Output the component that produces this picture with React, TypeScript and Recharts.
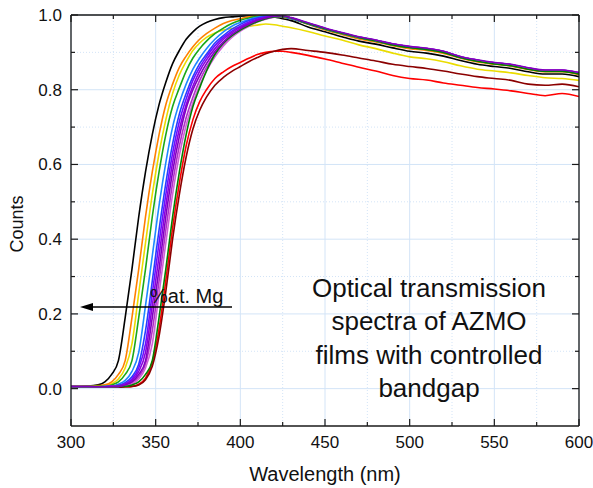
import React from 'react';
import { LineChart, Line, XAxis, YAxis, CartesianGrid } from 'recharts';

// wavelength grid (nm), finer across the absorption edge
const wavelengths = [
  300, 310, 316, 320, 324, 328, 332, 336, 340, 344, 348, 352, 356, 360, 364, 368, 372, 376, 380,
  385, 390, 395, 400, 405, 410, 415, 420, 425, 430,
  440, 450, 460, 470, 480, 490, 500, 510, 520, 530, 540, 550, 560, 570, 580, 590, 600,
];

// transmission, one array per film (left edge -> right edge)
const black = [.006, .007, .010, .018, .038, .075, .19, .32, .46, .58, .68, .76, .82, .87, .905, .935, .955, .97, .98, .988, .993, .995, .997, .998, .998, .997, .995, .99, .985, .968, .955, .942, .93, .922, .912, .903, .898, .89, .878, .868, .862, .857, .848, .842, .842, .835];
const orange = [.005, .006, .008, .010, .018, .038, .075, .19, .32, .46, .58, .68, .76, .815, .86, .89, .915, .935, .95, .965, .977, .985, .99, .995, .998, .999, .998, .994, .99, .975, .96, .948, .936, .928, .918, .91, .905, .897, .884, .874, .868, .863, .854, .848, .848, .84];
const gold = [.005, .006, .006, .008, .013, .026, .055, .12, .255, .39, .52, .63, .72, .79, .84, .875, .905, .925, .94, .952, .96, .964, .967, .97, .973, .976, .974, .97, .966, .956, .944, .933, .92, .91, .898, .888, .883, .875, .864, .855, .85, .845, .838, .832, .83, .825];
const green = [.005, .006, .006, .006, .010, .018, .038, .075, .19, .32, .46, .58, .68, .755, .805, .85, .885, .91, .93, .95, .965, .977, .986, .992, .996, .998, .998, .995, .99, .976, .962, .95, .939, .93, .92, .913, .908, .9, .886, .877, .87, .865, .856, .85, .85, .843];
const dodger = [.005, .005, .005, .006, .007, .012, .022, .046, .097, .222, .355, .49, .605, .70, .765, .815, .855, .885, .91, .935, .955, .97, .98, .988, .994, .997, .998, .996, .991, .977, .963, .951, .94, .931, .921, .914, .909, .901, .887, .878, .871, .866, .857, .851, .851, .844];
const blue = [.005, .005, .005, .005, .006, .009, .016, .032, .065, .155, .288, .425, .55, .655, .735, .79, .835, .87, .895, .925, .945, .962, .975, .985, .992, .996, .998, .996, .991, .977, .963, .952, .94, .932, .922, .914, .909, .902, .887, .878, .871, .866, .857, .851, .851, .844];
const blueViolet = [.005, .005, .005, .005, .006, .008, .013, .026, .055, .12, .255, .39, .52, .63, .715, .775, .825, .86, .888, .918, .94, .957, .97, .981, .989, .995, .998, .997, .992, .978, .964, .952, .941, .932, .922, .915, .91, .902, .888, .879, .872, .867, .858, .852, .852, .845];
const darkViolet = [.005, .005, .005, .005, .006, .007, .012, .022, .046, .097, .222, .355, .49, .605, .695, .76, .81, .85, .88, .91, .935, .953, .967, .978, .987, .993, .997, .997, .992, .978, .964, .952, .941, .932, .922, .915, .91, .902, .888, .879, .872, .867, .858, .852, .852, .845];
const purple = [.006, .006, .005, .005, .006, .006, .010, .018, .038, .075, .19, .32, .46, .58, .675, .75, .80, .838, .87, .902, .928, .948, .963, .975, .985, .992, .997, .998, .993, .979, .965, .953, .942, .933, .923, .916, .911, .903, .889, .88, .873, .868, .859, .853, .853, .846];
const magenta = [.005, .005, .005, .005, .006, .006, .009, .016, .032, .065, .155, .288, .425, .55, .65, .725, .78, .825, .86, .895, .922, .943, .96, .972, .983, .99, .995, .997, .992, .978, .964, .952, .941, .932, .922, .915, .91, .902, .888, .879, .872, .867, .858, .852, .852, .845];
const violet = [.005, .005, .005, .005, .005, .006, .008, .013, .026, .055, .12, .255, .39, .52, .625, .705, .765, .812, .85, .888, .917, .94, .957, .97, .981, .989, .994, .996, .992, .978, .964, .952, .941, .932, .922, .915, .91, .902, .888, .879, .872, .867, .858, .852, .852, .845];
const darkGreen = [.005, .005, .005, .005, .005, .006, .006, .010, .018, .038, .075, .19, .32, .46, .58, .68, .755, .805, .85, .895, .925, .945, .96, .972, .982, .99, .995, .996, .992, .977, .963, .951, .94, .931, .92, .913, .908, .9, .886, .876, .869, .864, .855, .849, .849, .842];
const red = [.004, .004, .004, .004, .004, .004, .005, .006, .012, .028, .07, .16, .29, .43, .55, .65, .72, .768, .80, .83, .848, .862, .873, .884, .894, .9, .903, .903, .9, .892, .882, .871, .86, .85, .838, .83, .826, .818, .812, .806, .802, .797, .79, .784, .79, .782];
const darkRed = [.004, .004, .004, .004, .004, .004, .005, .006, .01, .024, .06, .14, .26, .40, .52, .62, .695, .745, .78, .812, .833, .849, .862, .875, .886, .896, .903, .908, .91, .905, .9, .893, .885, .877, .868, .862, .857, .85, .842, .835, .83, .825, .815, .812, .815, .808];

// draw order: later ones sit on top
const series = [
  { key: 'black', color: '#000000', values: black },
  { key: 'red', color: '#ff0000', values: red },
  { key: 'darkRed', color: '#8b0000', values: darkRed },
  { key: 'gold', color: '#eadc00', values: gold },
  { key: 'orange', color: '#ff8000', values: orange },
  { key: 'green', color: '#1aa81a', values: green },
  { key: 'dodger', color: '#1e88ff', values: dodger },
  { key: 'blue', color: '#2a3cff', values: blue },
  { key: 'blueViolet', color: '#6a10ff', values: blueViolet },
  { key: 'darkViolet', color: '#8a00e0', values: darkViolet },
  { key: 'magenta', color: '#b030c8', values: magenta },
  { key: 'violet', color: '#d060d8', values: violet },
  { key: 'darkGreen', color: '#008000', values: darkGreen },
  { key: 'purple', color: '#8000c0', values: purple },
];

const data = wavelengths.map((w, i) => {
  const row: Record<string, number> = { w };
  series.forEach(s => {
    row[s.key] = s.values[i];
  });
  return row;
});

const xMajor = [300, 350, 400, 450, 500, 550, 600];
const xMinor = [325, 375, 425, 475, 525, 575];
const yMajor = [0, 0.2, 0.4, 0.6, 0.8, 1.0];
const yMinor = [0.1, 0.3, 0.5, 0.7, 0.9];
const xTicks = [...xMajor, ...xMinor].sort((a, b) => a - b);
const yTicks = [...yMajor, ...yMinor].sort((a, b) => a - b);
const X_DOMAIN = [300, 600];
const Y_DOMAIN = [-0.1, 1.0];

const W = 593;
const H = 488;
const MARGIN = { top: 15, right: 14, bottom: 32, left: 0 };
const Y_AXIS_W = 71;
const X_AXIS_H = 30;
// plot box, used only for the mirrored frame on top/right
const PLOT_L = MARGIN.left + Y_AXIS_W;
const PLOT_R = W - MARGIN.right;
const PLOT_T = MARGIN.top;
const PLOT_B = H - MARGIN.bottom - X_AXIS_H;
const px = (v: number) => PLOT_L + ((v - X_DOMAIN[0]) / (X_DOMAIN[1] - X_DOMAIN[0])) * (PLOT_R - PLOT_L);
const py = (v: number) => PLOT_T + ((Y_DOMAIN[1] - v) / (Y_DOMAIN[1] - Y_DOMAIN[0])) * (PLOT_B - PLOT_T);

const FONT = 'Arial, "Liberation Sans", sans-serif';
const X_GAP = 10;
const Y_GAP = 9;
const AXIS = '#1a1a1a';

const BottomTick = (props: any) => {
  const { x, y, payload } = props;
  const major = xMajor.includes(payload.value);
  const axisY = y - X_GAP;
  return (
    <g>
      <line x1={x} x2={x} y1={axisY} y2={axisY - (major ? 7 : 4)} stroke={AXIS} strokeWidth={1.2} />
      {major && (
        <text x={x} y={y} dy="0.71em" textAnchor="middle" fontSize={17} fontFamily={FONT} fill="#111">
          {payload.value}
        </text>
      )}
    </g>
  );
};

const LeftTick = (props: any) => {
  const { x, y, payload } = props;
  const major = yMajor.includes(payload.value);
  const axisX = x + Y_GAP;
  return (
    <g>
      <line x1={axisX} x2={axisX + (major ? 7 : 4)} y1={y} y2={y} stroke={AXIS} strokeWidth={1.2} />
      {major && (
        <text x={x} y={y} dy="0.35em" textAnchor="end" fontSize={17} fontFamily={FONT} fill="#111">
          {payload.value.toFixed(1)}
        </text>
      )}
    </g>
  );
};

const noteLines = ['Optical transmission', 'spectra of AZMO', 'films with controlled', 'bandgap'];

export default function App() {
  return (
    <div style={{ position: 'fixed', left: 0, top: 0, width: W, height: H, background: '#fff' }}>
      <LineChart width={W} height={H} data={data} margin={MARGIN}>
        <CartesianGrid stroke="#d3e4f7" strokeWidth={1} horizontalValues={yMajor} verticalValues={xMajor} />
        <CartesianGrid stroke="#d3e4f7" strokeWidth={1} strokeDasharray="1 2" horizontalValues={yMinor} verticalValues={xMinor} />
        <XAxis
          dataKey="w"
          type="number"
          domain={X_DOMAIN}
          ticks={xTicks}
          interval={0}
          height={X_AXIS_H}
          tickSize={0}
          tickMargin={X_GAP}
          tickLine={false}
          tick={<BottomTick />}
          axisLine={{ stroke: AXIS, strokeWidth: 1.3 }}
          allowDataOverflow
        />
        <YAxis
          type="number"
          domain={Y_DOMAIN}
          ticks={yTicks}
          interval={0}
          width={Y_AXIS_W}
          tickSize={0}
          tickMargin={Y_GAP}
          tickLine={false}
          tick={<LeftTick />}
          axisLine={{ stroke: AXIS, strokeWidth: 1.3 }}
          allowDataOverflow
        />
        {series.map(s => (
          <Line
            key={s.key}
            dataKey={s.key}
            type="monotone"
            stroke={s.color}
            strokeWidth={1.6}
            dot={false}
            isAnimationActive={false}
          />
        ))}
      </LineChart>
      <svg
        width={W}
        height={H}
        style={{ position: 'absolute', left: 0, top: 0, pointerEvents: 'none' }}
        fontFamily={FONT}
      >
        {/* top and right edges of the frame with inward ticks */}
        <line x1={PLOT_L} x2={PLOT_R} y1={PLOT_T} y2={PLOT_T} stroke={AXIS} strokeWidth={1.3} />
        <line x1={PLOT_R} x2={PLOT_R} y1={PLOT_T} y2={PLOT_B} stroke={AXIS} strokeWidth={1.3} />
        {xTicks.map(v => (
          <line key={'t' + v} x1={px(v)} x2={px(v)} y1={PLOT_T} y2={PLOT_T + (xMajor.includes(v) ? 7 : 4)} stroke={AXIS} strokeWidth={1.2} />
        ))}
        {yTicks.map(v => (
          <line key={'r' + v} x1={PLOT_R} x2={PLOT_R - (yMajor.includes(v) ? 7 : 4)} y1={py(v)} y2={py(v)} stroke={AXIS} strokeWidth={1.2} />
        ))}
        <text x={325} y={481} textAnchor="middle" fontSize={20} fill="#111">
          Wavelength (nm)
        </text>
        <text x={23} y={224} textAnchor="middle" fontSize={18} fill="#111" transform="rotate(-90 23 224)">
          Counts
        </text>
        <line x1={90} x2={232} y1={307} y2={307} stroke="#000" strokeWidth={1.6} />
        <polygon points="80,307 93,303 93,311" fill="#000" />
        <text x={150} y={303} fontSize={20} fill="#111">
          %at. Mg
        </text>
        {noteLines.map((t, i) => (
          <text key={t} x={429} y={297 + i * 33.3} textAnchor="middle" fontSize={26} fill="#111">
            {t}
          </text>
        ))}
      </svg>
    </div>
  );
}
